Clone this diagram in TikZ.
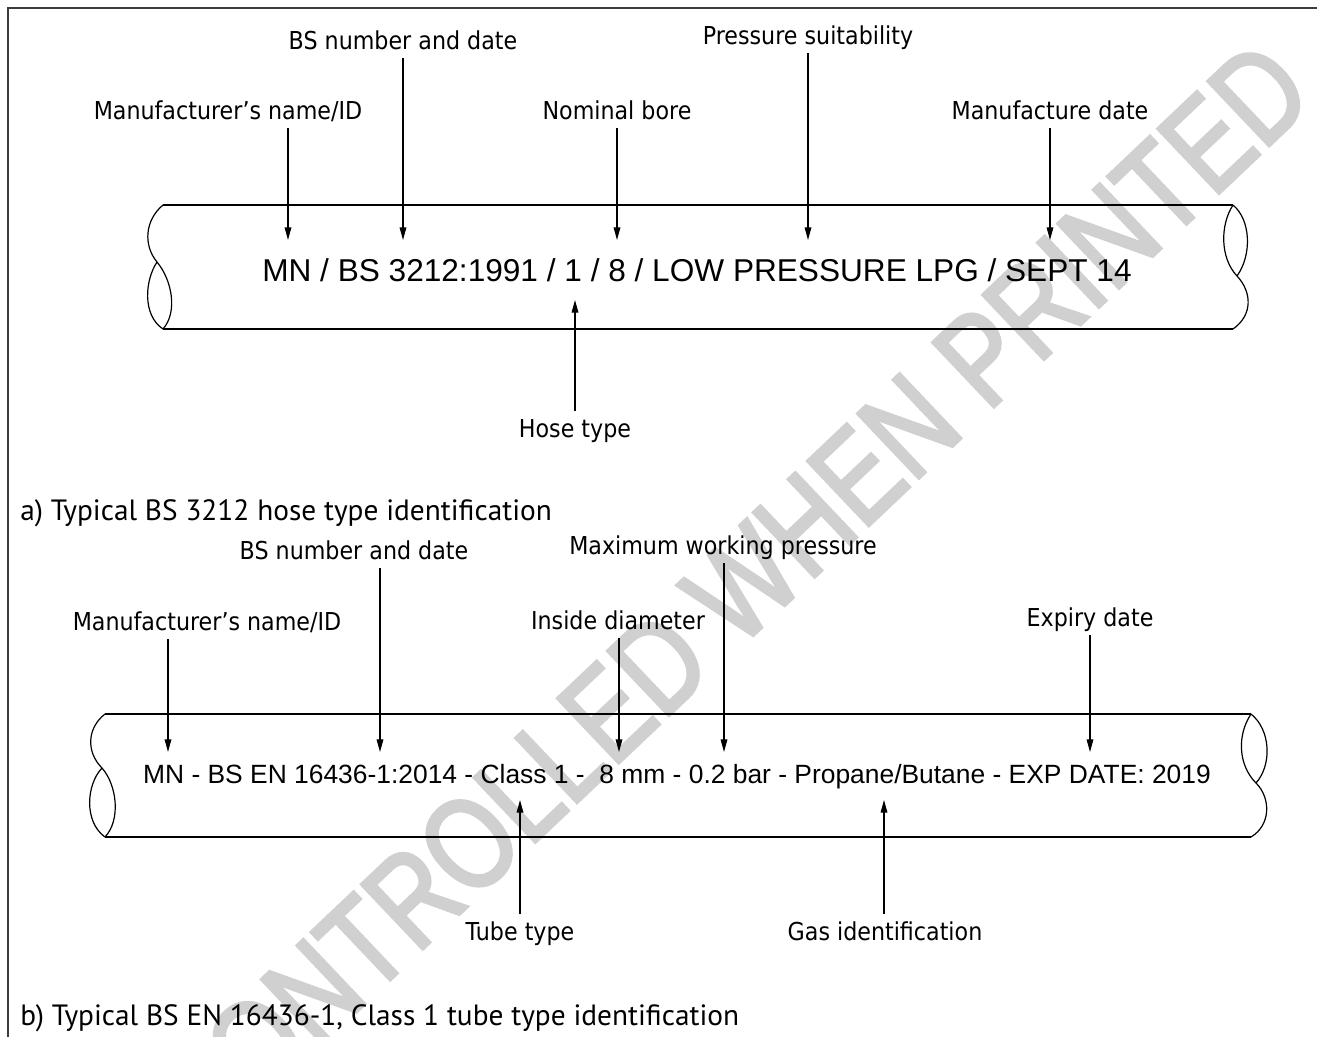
\documentclass[tikz,border=0pt]{standalone}
\usepackage{fontspec}
\usetikzlibrary{arrows.meta}
\newfontfamily\lblfont[FakeStretch=0.9]{DejaVu Sans}
\newfontfamily\hosefont{Liberation Sans}
\newfontfamily\capfont{PT Sans}
\newfontfamily\wmfont[FakeStretch=0.8,FakeBold=2.5]{Liberation Sans}
\definecolor{wmgray}{RGB}{208,208,208}
\definecolor{framegray}{RGB}{60,60,60}
\begin{document}
\begin{tikzpicture}[x=0.75pt,y=-0.75pt,
  lbl/.style={inner sep=0pt,anchor=base,text depth=6.8pt,font=\lblfont\fontsize{18.5pt}{22pt}\selectfont},
  lblup/.style={inner sep=0pt,anchor=base,text height=19.5pt,font=\lblfont\fontsize{18.5pt}{22pt}\selectfont},
  marking/.style={inner sep=0pt,anchor=base},
  caption/.style={inner sep=0pt,anchor=base west,font=\capfont\fontsize{22pt}{26pt}\selectfont},
  arr/.style={line width=0.9pt,-{Triangle[length=9.5pt,width=5pt]}},
  hoseline/.style={line width=2pt},
  hoseend/.style={line width=0.9pt},
  watermark/.style={text=wmgray,inner sep=0pt,font=\wmfont\fontsize{97pt}{110pt}\selectfont}]
\useasboundingbox (0,0) rectangle (1317,1036);

% watermark behind the drawing
\node[watermark,rotate=43.5] (wm) at (730,596) {CONTROLLED WHEN PRINTED};

% frame (left and top edges)
\draw[framegray,line width=1.1pt] (8,1040) -- (8,8) -- (1320,8);

% ---------- a) BS 3212 hose ----------
\draw[hoseline] (163,205) -- (1233,205);
\draw[hoseline] (163,329) -- (1233,329);
\draw[hoseend] (163,205) .. controls (145,220) and (143,245) .. (157,262);
\draw[hoseend] (157,262) .. controls (145,280) and (142,315) .. (163,329);
\draw[hoseend] (157,262) .. controls (172,280) and (178,312) .. (163,329);
\draw[hoseend] (1233,205) .. controls (1220,225) and (1220,258) .. (1237,276);
\draw[hoseend] (1233,205) .. controls (1251,220) and (1252,255) .. (1237,276);
\draw[hoseend] (1237,276) .. controls (1252,292) and (1253,315) .. (1233,329);

\node[marking,font=\hosefont\fontsize{23.7pt}{28pt}\selectfont] (marka) at (697,281)
  {MN / BS 3212:1991 / 1 / 8 / LOW PRESSURE LPG / SEPT 14};

\node[lbl] (a-mfr)  at (228,119) {Manufacturer’s name/ID};
\node[lbl] (a-bs)   at (403,49)  {BS number and date};
\node[lbl] (a-bore) at (617,119) {Nominal bore};
\node[lbl] (a-pres) at (808,44)  {Pressure suitability};
\node[lbl] (a-date) at (1050,119){Manufacture date};
\node[lblup] (a-type) at (575,437) {Hose type};

\coordinate (ta-mfr)  at (288,240);
\coordinate (ta-bs)   at (403,240);
\coordinate (ta-bore) at (617,240);
\coordinate (ta-pres) at (808,240);
\coordinate (ta-date) at (1050,240);
\coordinate (ta-type) at (575,300);

\draw[arr] (a-mfr.south -| ta-mfr) -- (ta-mfr);
\draw[arr] (a-bs.south -| ta-bs) -- (ta-bs);
\draw[arr] (a-bore.south -| ta-bore) -- (ta-bore);
\draw[arr] (a-pres.south -| ta-pres) -- (ta-pres);
\draw[arr] (a-date.south -| ta-date) -- (ta-date);
\draw[arr] (a-type.north -| ta-type) -- (ta-type);

\node[caption] (capa) at (20,520) {a) Typical BS 3212 hose type identification};

% ---------- b) BS EN 16436-1 tube ----------
\draw[hoseline] (105,714) -- (1251,714);
\draw[hoseline] (105,837) -- (1251,837);
\draw[hoseend] (105,714) .. controls (87,728) and (86,752) .. (102,768);
\draw[hoseend] (102,768) .. controls (86,785) and (84,822) .. (105,837);
\draw[hoseend] (102,768) .. controls (117,785) and (121,820) .. (105,837);
\draw[hoseend] (1251,714) .. controls (1237,735) and (1238,765) .. (1256,783);
\draw[hoseend] (1251,714) .. controls (1271,730) and (1272,765) .. (1256,783);
\draw[hoseend] (1256,783) .. controls (1271,798) and (1271,825) .. (1251,837);

\node[marking,font=\hosefont\fontsize{19.8pt}{24pt}\selectfont] (markb) at (677,783)
  {MN - BS EN 16436-1:2014 - Class 1 -\ \ 8 mm - 0.2 bar - Propane/Butane - EXP DATE: 2019};

\node[lbl] (b-mfr)  at (207,630) {Manufacturer’s name/ID};
\node[lbl] (b-bs)   at (354,559) {BS number and date};
\node[lbl] (b-dia)  at (618,629) {Inside diameter};
\node[lbl] (b-pres) at (723,554) {Maximum working pressure};
\node[lbl] (b-exp)  at (1090,626){Expiry date};
\node[lblup] (b-tube) at (520,940) {Tube type};
\node[lblup] (b-gas)  at (885,940) {Gas identification};

\coordinate (tb-mfr)  at (168,752);
\coordinate (tb-bs)   at (380,752);
\coordinate (tb-dia)  at (619,752);
\coordinate (tb-pres) at (724,752);
\coordinate (tb-exp)  at (1090,752);
\coordinate (tb-tube) at (520,800);
\coordinate (tb-gas)  at (884,800);

\draw[arr] (b-mfr.south -| tb-mfr) -- (tb-mfr);
\draw[arr] (b-bs.south -| tb-bs) -- (tb-bs);
\draw[arr] (b-dia.south -| tb-dia) -- (tb-dia);
\draw[arr] (b-pres.south -| tb-pres) -- (tb-pres);
\draw[arr] (b-exp.south -| tb-exp) -- (tb-exp);
\draw[arr] (b-tube.north -| tb-tube) -- (tb-tube);
\draw[arr] (b-gas.north -| tb-gas) -- (tb-gas);

\node[caption] (capb) at (20,1025) {b) Typical BS EN 16436-1, Class 1 tube type identification};
\end{tikzpicture}
\end{document}
